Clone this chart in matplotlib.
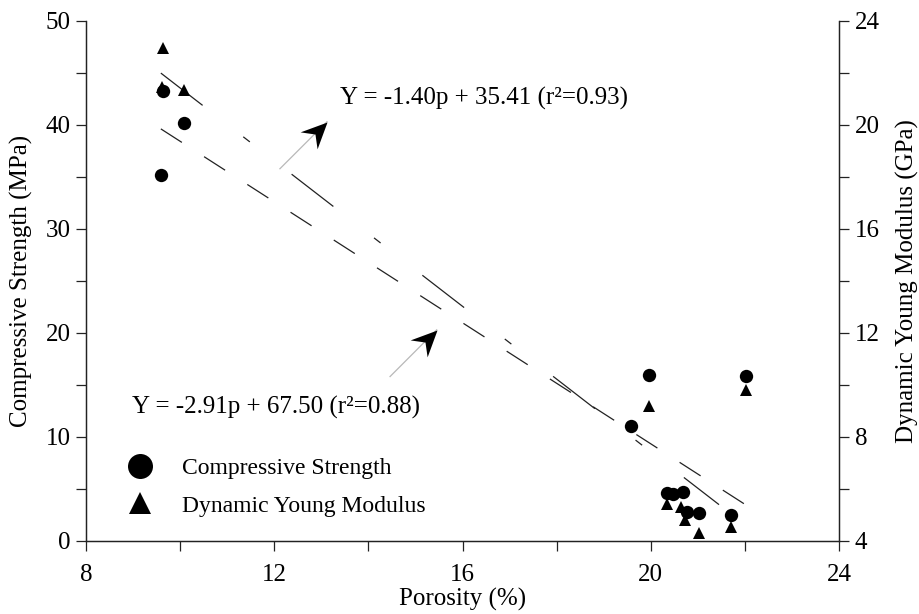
import numpy as np
import matplotlib.pyplot as plt
from matplotlib.lines import Line2D
from matplotlib.path import Path
from matplotlib.ticker import MultipleLocator

plt.rcParams['font.family'] = ['Liberation Serif', 'DejaVu Serif']
plt.rcParams['lines.scale_dashes'] = False

# compressive strength (MPa) against porosity (%)
cs_por = [9.64, 9.59, 10.08, 19.58, 19.96, 22.02, 20.35, 20.48, 20.69, 20.77, 21.03, 21.71]
cs_val = [43.2, 35.2, 40.2, 11.0, 15.9, 15.8, 4.6, 4.5, 4.7, 2.7, 2.6, 2.5]

# dynamic Young modulus (GPa) against porosity (%)
ym_por = [9.64, 9.62, 10.08, 19.96, 22.02, 20.35, 20.65, 20.72, 21.03, 21.71]
ym_val = [22.95, 21.45, 21.35, 9.18, 9.79, 5.40, 5.30, 4.79, 4.28, 4.53]

# linear fits: slope, intercept and porosity range of the drawn line
cs_fit = (-2.91, 67.50)
ym_fit = (-1.40, 35.41)
cs_range = np.array([9.59, 22.02])
ym_range = np.array([9.59, 21.45])

cs_eq = "Y = -2.91p + 67.50 (r\u00b2=0.88)"
ym_eq = "Y = -1.40p + 35.41 (r\u00b2=0.93)"

fig = plt.figure(figsize=(9.19, 6.14), dpi=100)
ax = fig.add_axes([0.0936, 0.1197, 0.8194, 0.8466])
ax2 = ax.twinx()

ax.set_xlim(8, 24)
ax.set_ylim(0, 50)
ax2.set_ylim(4, 24)

ax.plot(cs_range, cs_fit[0] * cs_range + cs_fit[1], color='#222222', lw=0.9, dashes=(18, 19))
ax2.plot(ym_range, ym_fit[0] * ym_range + ym_fit[1], color='#222222', lw=0.9, dashes=(38, 37, 6, 38))

ax.plot(cs_por, cs_val, 'o', color='black', ms=9.6, mew=0)
ax2.plot(ym_por, ym_val, '^', color='black', ms=8.4, mew=0)


def arrow(a, start, tip):
    a.plot([start[0], tip[0]], [start[1], tip[1]], color='#b8b8b8', lw=0.9)
    p0 = a.transData.transform(start)
    p1 = a.transData.transform(tip)
    ang = np.arctan2(p1[1] - p0[1], p1[0] - p0[0])
    verts = np.array([[0, 0], [-26, 12], [-17, 0], [-26, -12], [0, 0]], float)
    rot = np.array([[np.cos(ang), -np.sin(ang)], [np.sin(ang), np.cos(ang)]])
    v = verts @ rot.T
    r = np.abs(v).max()
    codes = [Path.MOVETO, Path.LINETO, Path.LINETO, Path.LINETO, Path.CLOSEPOLY]
    a.plot(tip[0], tip[1], marker=Path(v, codes), ms=1.44 * r, color='black', mew=0, ls='none')


arrow(ax, (12.12, 35.76), (13.12, 40.28))
arrow(ax, (14.46, 15.77), (15.45, 20.26))

ax.text(13.40, 41.91, ym_eq, fontsize=18, ha='left', va='baseline')
ax.text(8.98, 12.24, cs_eq, fontsize=18, ha='left', va='baseline')

ax.xaxis.set_major_locator(MultipleLocator(4))
ax.xaxis.set_minor_locator(MultipleLocator(2))
ax.yaxis.set_major_locator(MultipleLocator(10))
ax.yaxis.set_minor_locator(MultipleLocator(5))
ax2.yaxis.set_major_locator(MultipleLocator(4))
ax2.yaxis.set_minor_locator(MultipleLocator(2))

for a in (ax, ax2):
    a.spines['top'].set_visible(False)
    for s in a.spines.values():
        s.set_color('#222222')
        s.set_linewidth(0.9)
    a.tick_params(which='both', direction='out', length=7.2, width=0.9, color='#222222', labelsize=18)
ax.tick_params(axis='y', pad=4)
ax.tick_params(axis='x', pad=10)
ax2.tick_params(axis='y', pad=4)

ax.set_xlabel('Porosity (%)', fontsize=18, labelpad=1)
ax.set_ylabel('Compressive Strength (MPa)', fontsize=18, labelpad=9)
ax2.set_ylabel('Dynamic Young Modulus (GPa)', fontsize=18, labelpad=12)

handles = [
    Line2D([], [], ls='none', marker='o', ms=18, color='black', mew=0),
    Line2D([], [], ls='none', marker='^', ms=16.5, color='black', mew=0),
]
ax2.legend(handles, ['Compressive Strength', 'Dynamic Young Modulus'], loc='lower left',
           bbox_to_anchor=(0.056, 0.046), frameon=False, borderpad=0, borderaxespad=0,
           handlelength=1.0, handletextpad=1.28, labelspacing=0.68, fontsize=17)

fig.savefig('out.png', dpi=100)
